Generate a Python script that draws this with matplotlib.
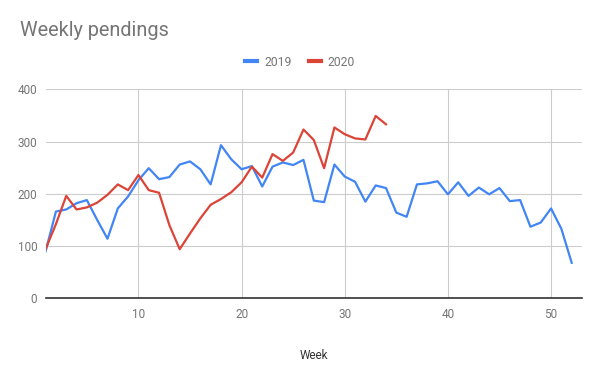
import matplotlib
matplotlib.use("Agg")
import matplotlib.pyplot as plt
from matplotlib.lines import Line2D

weeks_2019 = list(range(1, 53))
values_2019 = [90, 166, 170, 182, 188, 150, 114, 172, 195, 226,
               249, 228, 232, 256, 262, 247, 218, 293, 266, 247,
               253, 214, 252, 260, 255, 265, 187, 184, 256, 233,
               223, 185, 216, 211, 164, 156, 218, 220, 224, 199,
               222, 196, 212, 199, 211, 186, 188, 137, 145, 172,
               133, 68]
weeks_2020 = list(range(1, 35))
values_2020 = [94, 142, 196, 170, 174, 183, 198, 218, 207, 236,
               207, 202, 140, 94, 124, 153, 179, 190, 203, 222,
               252, 231, 276, 263, 279, 323, 303, 249, 327, 314,
               306, 304, 349, 333]
series_names = ["2019", "2020"]
x_ticks = [10, 20, 30, 40, 50]
y_ticks = [0, 100, 200, 300, 400]

blue = "#4285F4"
red = "#DB4437"
grey_text = "#757575"

plt.rcParams['font.family'] = ['Roboto', 'DejaVu Sans']

fig = plt.figure(figsize=(6, 3.71), dpi=100)
ax = fig.add_axes([45.6/600, 1-298.3/371, (582-45.6)/600, (298.3-89.3)/371])

ax.plot(weeks_2019, values_2019, color=blue, lw=1.6, label=series_names[0], zorder=3, solid_joinstyle='round')
ax.plot(weeks_2020, values_2020, color=red, lw=1.6, label=series_names[1], zorder=3, solid_joinstyle='round')

ax.set_xlim(1, 53)
ax.set_ylim(0, 400)
ax.set_xticks(x_ticks)
ax.set_yticks(y_ticks)
ax.grid(True, color="#cccccc", lw=0.8)
ax.set_axisbelow(True)
for s in ["top", "right", "left"]:
    ax.spines[s].set_visible(False)
ax.spines["bottom"].set_color("#333333")
ax.spines["bottom"].set_linewidth(1.2)
ax.spines["bottom"].set_zorder(4)
ax.tick_params(length=0, labelsize=8.5, labelcolor=grey_text, pad=7)
ax.tick_params(axis='y', pad=6)
ax.set_xlabel("Week", fontsize=8.5, color="#333333", labelpad=20)

fig.text(20/600, 1-31/371, "Weekly pendings", fontsize=14.3, color=grey_text, va='center', ha='left')

handles = [Line2D([], [], color=blue, lw=3), Line2D([], [], color=red, lw=3)]
fig.legend(handles, series_names, loc='center', bbox_to_anchor=(300/600, 1-62/371),
           ncol=2, frameon=False, fontsize=8.7, labelcolor=grey_text,
           handlelength=1.0, handletextpad=0.6, columnspacing=1.4)

fig.savefig("out.png", dpi=100)
